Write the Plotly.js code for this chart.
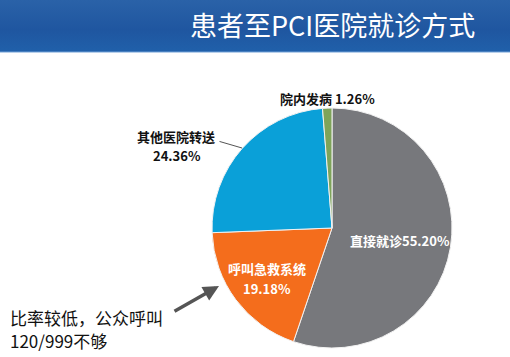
<!DOCTYPE html>
<html>
<head>
<meta charset="utf-8">
<script src="https://cdn.plot.ly/plotly-3.0.1.min.js"></script>
<style>
  html, body { margin: 0; padding: 0; background: #ffffff; }
  #wrap { position: relative; width: 510px; height: 357px; overflow: hidden;
          background: linear-gradient(to bottom, #2a62a8 0px, #1f56a0 30px, #2060aa 51px, #6f9fd6 52px, #ffffff 53px, #ffffff 357px); }
  #chart { position: absolute; left: 0; top: 0; width: 510px; height: 357px; }
</style>
</head>
<body>
<div id="wrap"><div id="chart"></div></div>
<script>
// ---- data ----
const chartTitle = '患者至PCI医院就诊方式';
const categories = ['直接就诊', '呼叫急救系统', '其他医院转送', '院内发病'];
const values = [55.20, 19.18, 24.36, 1.26];
const sliceColors = ['#77787c', '#f46d1c', '#0aa0d8', '#7ea45a'];
const noteLines = ['比率较低，公众呼叫', '120/999不够'];

const pct = v => v.toFixed(2) + '%';

const trace = {
  type: 'pie',
  labels: categories,
  values: values,
  sort: false,
  direction: 'clockwise',
  rotation: 0,
  textinfo: 'none',
  hoverinfo: 'label+percent',
  marker: { colors: sliceColors, line: { color: '#f2f2f2', width: 1 } },
  domain: { x: [212/510, 452/510], y: [9/357, 249/357] },
  showlegend: false
};

const cjk = '"Noto Sans CJK SC", "Noto Sans", sans-serif';
const C = { xref: 'paper', yref: 'paper', xanchor: 'center', yanchor: 'middle' };
const P = (px, py) => ({ x: px / 510, y: 1 - py / 357 });
const white = { family: cjk, size: 13, color: '#ffffff', weight: 'bold' };
const dark = { family: cjk, size: 13, color: '#111111', weight: 'bold' };

function label(text, px, py, font) {
  return Object.assign({ text: text, showarrow: false, font: font }, C, P(px, py));
}

const annotations = [
  // inside labels
  label(categories[0] + pct(values[0]), 400, 240, white),
  label(categories[1], 267, 268, white),
  label(pct(values[1]), 267, 288, white),
  // outside labels
  label(categories[2], 176, 136, dark),
  label(pct(values[2]), 177, 155, dark),
  label(categories[3] + ' ' + pct(values[3]), 327, 98, dark),
  // leader line for 其他医院转送
  Object.assign({ text: '', showarrow: true, arrowhead: 0, arrowwidth: 1, arrowcolor: '#555555', ax: -24, ay: -7 }, C, P(242, 148)),
  // note text
  Object.assign({ text: noteLines[0], showarrow: false, font: { family: cjk, size: 17, color: '#111111' } },
    C, P(8, 317), { xanchor: 'left' }),
  Object.assign({ text: noteLines[1], showarrow: false, font: { family: cjk, size: 17, color: '#111111' } },
    C, P(8, 340), { xanchor: 'left' }),
  // note arrow
  Object.assign({ text: '', showarrow: true, arrowhead: 2, arrowsize: 0.9, arrowwidth: 3.5, arrowcolor: '#555555', ax: -46, ay: 26 }, C, P(219, 286))
];

const layout = {
  width: 510, height: 357,
  margin: { l: 0, r: 0, t: 0, b: 0 },
  paper_bgcolor: 'rgba(0,0,0,0)',
  plot_bgcolor: 'rgba(0,0,0,0)',
  title: { text: chartTitle, x: 190/510, xanchor: 'left', xref: 'paper', y: 1 - 27/357, yanchor: 'middle', yref: 'paper',
           font: { family: cjk, size: 27, color: '#ffffff' } },
  annotations: annotations
};

Plotly.newPlot('chart', [trace], layout, { displayModeBar: false, staticPlot: true });
</script>
</body>
</html>
